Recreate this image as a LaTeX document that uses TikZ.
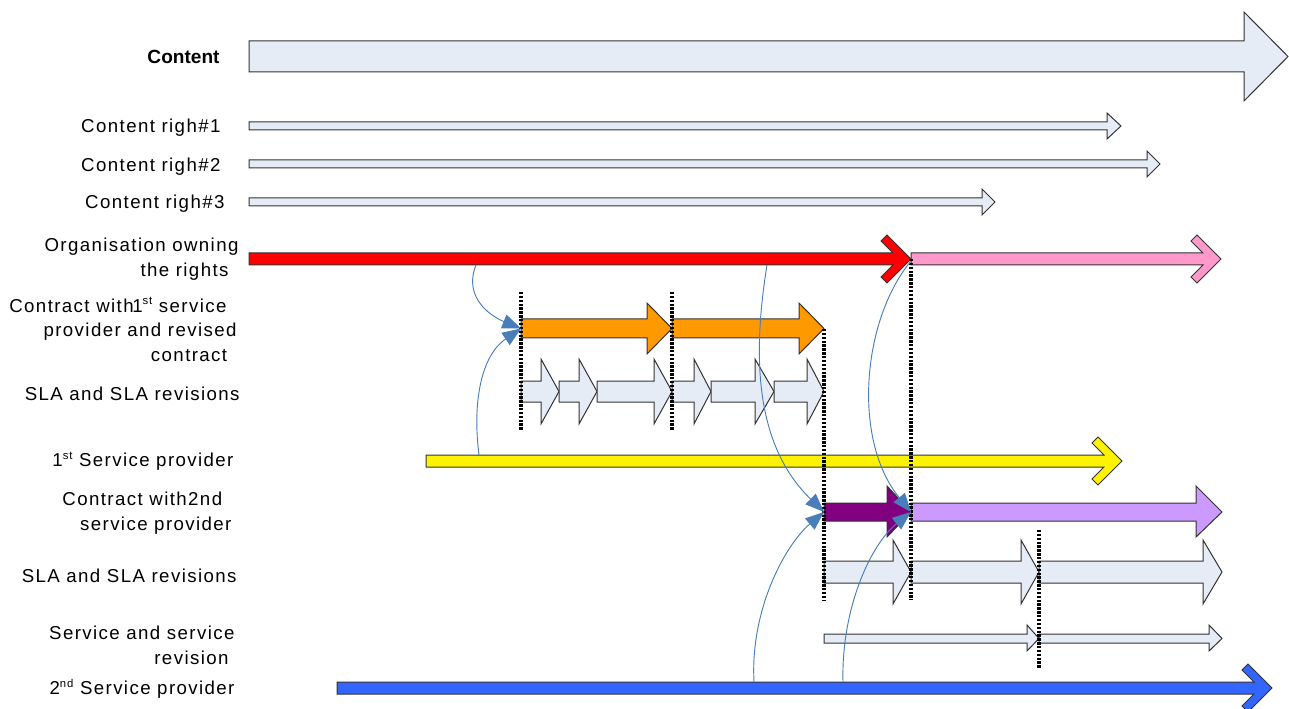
\documentclass[tikz,border=0pt]{standalone}
\usepackage{fontspec}
\setmainfont{Liberation Sans}
\newfontfamily\lblfont[LetterSpace=7.5]{Liberation Sans}
\usetikzlibrary{arrows.meta}

\definecolor{contentfill}{HTML}{E5ECF6}
\definecolor{orangefill}{HTML}{FF9900}
\definecolor{pinkfill}{HTML}{FF99CC}
\definecolor{purplefill}{HTML}{800080}
\definecolor{lilacfill}{HTML}{CC99FF}
\definecolor{bluefill}{HTML}{3366FF}
\definecolor{linkblue}{HTML}{4A7EBB}

\tikzset{every picture/.style={line width=0.75pt}}
\tikzset{
  blk/.style={draw=black!80, line width=0.75pt},
  lbl/.style={anchor=east, inner sep=0pt, align=right, font=\lblfont\fontsize{14}{18.5}\selectfont},
  cut/.style={black, line width=2.4pt, dash pattern=on 1.8pt off 1.1pt},
  link/.style={linkblue, line width=0.7pt, -{Triangle[length=14pt,width=11pt]}}
}

\begin{document}
\begin{tikzpicture}[x=0.75pt,y=0.75pt,yscale=-1,xscale=1]
        \useasboundingbox (0,0) rectangle (1289,709);

        \draw [blk, fill=contentfill]  (249,41) -- (1244,41) -- (1244,12) -- (1288,56.5) -- (1244,101) -- (1244,72) -- (249,72) -- cycle ;
        \draw [blk, fill=contentfill]  (249,122) -- (1107,122) -- (1107,113) -- (1121,126) -- (1107,139) -- (1107,130) -- (249,130) -- cycle ;
        \draw [blk, fill=contentfill]  (249,160) -- (1147,160) -- (1147,151) -- (1160,164) -- (1147,177) -- (1147,168) -- (249,168) -- cycle ;
        \draw [blk, fill=contentfill]  (249,198) -- (982,198) -- (982,189) -- (995,202) -- (982,215) -- (982,206) -- (249,206) -- cycle ;

        \draw [blk, fill=red]  (249,253) -- (893,253) -- (881,241) -- (887,235) -- (911,259) -- (887,283) -- (881,277) -- (893,265) -- (249,265) -- cycle ;
        \draw [blk, fill=pinkfill]  (911,253) -- (1203,253) -- (1191,241) -- (1197,235) -- (1221,259) -- (1197,283) -- (1191,277) -- (1203,265) -- (911,265) -- cycle ;

        \draw [blk, fill=orangefill]  (521,319) -- (647,319) -- (647,303) -- (672,328.5) -- (647,354) -- (647,338) -- (521,338) -- cycle ;
        \draw [blk, fill=orangefill]  (672,319) -- (799,319) -- (799,303) -- (824,328.5) -- (799,354) -- (799,338) -- (672,338) -- cycle ;

        \draw [blk, fill=contentfill]  (521,381) -- (541,381) -- (541,359) -- (559,391.5) -- (541,424) -- (541,402) -- (521,402) -- cycle ;
        \draw [blk, fill=contentfill]  (559,381) -- (579,381) -- (579,359) -- (597,391.5) -- (579,424) -- (579,402) -- (559,402) -- cycle ;
        \draw [blk, fill=contentfill]  (597,381) -- (654,381) -- (654,359) -- (672,391.5) -- (654,424) -- (654,402) -- (597,402) -- cycle ;
        \draw [blk, fill=contentfill]  (672,381) -- (694,381) -- (694,359) -- (711,391.5) -- (694,424) -- (694,402) -- (672,402) -- cycle ;
        \draw [blk, fill=contentfill]  (711,381) -- (755,381) -- (755,359) -- (774,391.5) -- (755,424) -- (755,402) -- (711,402) -- cycle ;
        \draw [blk, fill=contentfill]  (774,381) -- (807,381) -- (807,359) -- (824,391.5) -- (807,424) -- (807,402) -- (774,402) -- cycle ;

        \draw [blk, fill=yellow]  (426,455) -- (1104,455) -- (1092,443) -- (1098,437) -- (1122,461) -- (1098,485) -- (1092,479) -- (1104,467) -- (426,467) -- cycle ;

        \draw [blk, fill=purplefill]  (824,503) -- (887,503) -- (887,486) -- (911,512) -- (887,537) -- (887,521) -- (824,521) -- cycle ;
        \draw [blk, fill=lilacfill]  (911,503) -- (1196,503) -- (1196,486) -- (1222,512) -- (1196,537) -- (1196,521) -- (911,521) -- cycle ;

        \draw [blk, fill=contentfill]  (824,561) -- (893,561) -- (893,540) -- (911,572) -- (893,604) -- (893,583) -- (824,583) -- cycle ;
        \draw [blk, fill=contentfill]  (911,561) -- (1021,561) -- (1021,540) -- (1039,572) -- (1021,604) -- (1021,583) -- (911,583) -- cycle ;
        \draw [blk, fill=contentfill]  (1039,561) -- (1203,561) -- (1203,540) -- (1222,572) -- (1203,604) -- (1203,583) -- (1039,583) -- cycle ;

        \draw [blk, fill=contentfill]  (824,634) -- (1027,634) -- (1027,625) -- (1039,638.5) -- (1027,651) -- (1027,643) -- (824,643) -- cycle ;
        \draw [blk, fill=contentfill]  (1039,634) -- (1209,634) -- (1209,625) -- (1222,638.5) -- (1209,651) -- (1209,643) -- (1039,643) -- cycle ;

        \draw [blk, fill=bluefill]  (337,682) -- (1254,682) -- (1242,670) -- (1248,664) -- (1272,688) -- (1248,712) -- (1242,706) -- (1254,694) -- (337,694) -- cycle ;

        \draw [cut] (521,292) -- (521,431) ;
        \draw [cut] (672,292) -- (672,431) ;
        \draw [cut] (824,329) -- (824,600) ;
        \draw [cut] (911,259) -- (911,600) ;
        \draw [cut] (1039,530) -- (1039,669) ;

        \coordinate (ownerA) at (476,265);
        \coordinate (ownerB) at (767,265);
        \coordinate (ownerEnd) at (911,261);
        \coordinate (firstSP) at (479,455);
        \coordinate (secondSPA) at (754,682);
        \coordinate (secondSPB) at (843,682);
        \coordinate (contract1) at (521,328.5);
        \coordinate (contract2) at (824,512);
        \coordinate (contract2b) at (911,512);

        \draw [link] (ownerA) .. controls (462,300) and (495,318) .. (contract1) ;
        \draw [link] (firstSP) .. controls (472,400) and (482,355) .. (contract1) ;
        \draw [link] (ownerB) .. controls (750,370) and (760,450) .. (contract2) ;
        \draw [link] (ownerEnd) .. controls (862,320) and (852,440) .. (contract2b) ;
        \draw [link] (secondSPA) .. controls (750,610) and (785,545) .. (contract2) ;
        \draw [link] (secondSPB) .. controls (841,610) and (870,545) .. (contract2b) ;

        \node [anchor=east, inner sep=0pt, font=\fontsize{14.3}{17}\selectfont\bfseries] (lblContent) at (220,57) {Content};
        \node [lbl] (lblRight1) at (221,127.5) {Content righ\#1};
        \node [lbl] (lblRight2) at (221,166.5) {Content righ\#2};
        \node [lbl] (lblRight3) at (225,203.5) {Content righ\#3};
        \node [lbl] (lblOwner) at (239,259) {Organisation owning\\the rights\hspace*{7.5pt}};
        \node [lbl] (lblContract1) at (237,329.5) {Contract with\kern-1pt 1{\fontsize{8.5}{10}\selectfont\raisebox{5.5pt}{st}} service\hspace*{7.5pt}\\provider and revised\\contract\hspace*{7pt}};
        \node [lbl] (lblSla1) at (240,393.5) {SLA and SLA revisions};
        \node [lbl] (lblFirstSP) at (234,461.5) {1{\fontsize{8.5}{10}\selectfont\raisebox{5.5pt}{st}} Service provider};
        \node [lbl] (lblContract2) at (232,513.5) {Contract with2nd\hspace*{7pt}\\service provider};
        \node [lbl] (lblSla2) at (237,575.5) {SLA and SLA revisions};
        \node [lbl] (lblService) at (235,645) {Service and service\\revision\hspace*{4.5pt}};
        \node [lbl] (lblSecondSP) at (235,688.5) {2{\fontsize{8.5}{10}\selectfont\raisebox{5.5pt}{nd}} Service provider};
    \end{tikzpicture}
\end{document}
